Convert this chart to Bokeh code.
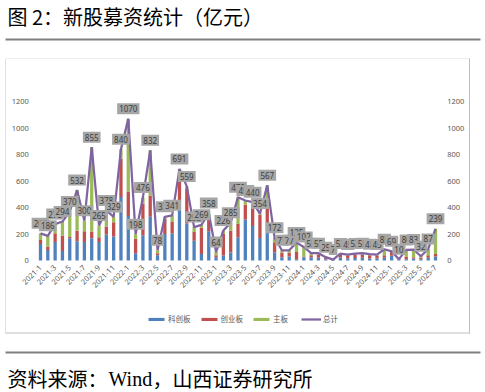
import numpy as np
from bokeh.plotting import figure
from bokeh.models import (ColumnDataSource, Range1d, LinearAxis, FixedTicker, Legend, LegendItem,
                          Label, BoxAnnotation)
from bokeh.embed import file_html
from bokeh.resources import INLINE
from bokeh.core.properties import value

# ---------------- data (亿元) ----------------
months = [
    "2021-1", "2021-2", "2021-3", "2021-4", "2021-5", "2021-6", "2021-7", "2021-8", "2021-9", "2021-10", "2021-11", "2021-12",
    "2022-1", "2022-2", "2022-3", "2022-4", "2022-5", "2022-6", "2022-7", "2022-8", "2022-9", "2022-10", "2022-11", "2022-12",
    "2023-1", "2023-2", "2023-3", "2023-4", "2023-5", "2023-6", "2023-7", "2023-8", "2023-9", "2023-10", "2023-11", "2023-12",
    "2024-1", "2024-2", "2024-3", "2024-4", "2024-5", "2024-6", "2024-7", "2024-8", "2024-9", "2024-10", "2024-11", "2024-12",
    "2025-1", "2025-2", "2025-3", "2025-4", "2025-5", "2025-6", "2025-7",
]
kechuang = [125, 80, 140, 72, 168, 145, 140, 168, 140, 196, 181, 480,
            335, 55, 190, 330, 40, 200, 205, 430, 280, 150, 50, 220,
            25, 38, 60, 176, 310, 260, 170, 210, 63, 25, 30, 10,
            25, 25, 20, 10, 3, 20, 15, 18, 20, 15, 15, 20,
            35, 5, 10, 15, 10, 20, 30]
chuangye = [30, 25, 65, 117, 10, 80, 80, 50, 35, 60, 108, 290,
            185, 110, 240, 160, 15, 115, 85, 200, 260, 65, 200, 90,
            15, 163, 165, 100, 110, 150, 175, 190, 75, 35, 30, 55,
            5, 15, 25, 10, 4, 22, 22, 24, 25, 25, 22, 20,
            30, 5, 20, 10, 12, 20, 20]
zhuban = [50, 81, 70, 105, 192, 307, 80, 637, 90, 122, 40, 70,
          550, 33, 46, 342, 23, 15, 51, 61, 19, 37, 19, 48,
          24, 25, 60, 202, 33, 30, 9, 167, 34, 17, 17, 70,
          72, 15, 10, 5, 0, 10, 8, 10, 10, 8, 8, 45,
          4, 0, 50, 58, 10, 47, 189]
total = [205, 186, 275, 294, 370, 532, 300, 855, 265, 378, 329, 840,
         1070, 198, 476, 832, 78, 330, 341, 691, 559, 252, 269, 358,
         64, 226, 285, 478, 453, 440, 354, 567, 172, 77, 77, 135,
         102, 55, 55, 25, 7, 52, 45, 52, 55, 48, 45, 85,
         69, 10, 80, 83, 32, 87, 239]
series_names = ["科创板", "创业板", "主板", "总计"]
y_ticks = [0, 200, 400, 600, 800, 1000, 1200]
title_text = "图 2：新股募资统计（亿元）"
source_parts = ["资料来源：", "Wind", "，山西证券研究所"]

# ---------------- style / geometry (pixels) ----------------
CJK = "Noto Sans CJK SC"
BLUE, RED, GREEN, PURPLE = "#4F81BD", "#C0504D", "#9BBB59", "#8064A2"
AXIS_TXT = "#595959"
WIDTH, HEIGHT = 485, 392
X0_PX, STEP_PX = 40.0, 7.315          # first category centre, category spacing
Y0_PX, PX_PER_UNIT = 260.0, 159.0 / 1200  # page y of value 0, px per 亿元

n = len(months)
x_start = -X0_PX / STEP_PX
x_end = (WIDTH - X0_PX) / STEP_PX
y_start = -(HEIGHT - Y0_PX) / PX_PER_UNIT
y_end = Y0_PX / PX_PER_UNIT

src = ColumnDataSource(dict(
    x=list(range(n)), kc=kechuang, cy=chuangye, zb=zhuban,
    total=total, lab=[str(v) for v in total]))

p = figure(width=WIDTH, height=HEIGHT, x_range=Range1d(x_start, x_end), y_range=Range1d(y_start, y_end),
           output_backend="svg", toolbar_location=None, x_axis_location=None, y_axis_location=None,
           min_border=0)
p.grid.visible = False
p.outline_line_color = None
p.background_fill_color = "white"


def hbox(left, right, top, bottom, color):
    # thin decorative rule, page pixel coordinates (y from top)
    p.add_layout(BoxAnnotation(left=left, right=right, top=HEIGHT - top, bottom=HEIGHT - bottom,
                               left_units="screen", right_units="screen",
                               top_units="screen", bottom_units="screen",
                               fill_color=color, fill_alpha=1, line_color=None, level="underlay"))


# title, rules, chart box
p.add_layout(Label(x=7, y=HEIGHT - 15.5, x_units="screen", y_units="screen", text=title_text,
                   text_font=CJK, text_font_size="20px", text_baseline="middle", text_color="#000000"))
hbox(5, 480, 38, 40, "#7F7F7F")
hbox(5, 469, 57.5, 58.5, "#EDEDED")
hbox(4.5, 5.5, 58, 333, "#E3E3E3")
hbox(468.5, 469.5, 58, 333, "#BFBFBF")
hbox(5, 469.5, 332, 333, "#BFBFBF")
hbox(5, 480, 351, 353, "#7F7F7F")
p.add_layout(Label(x=7, y=HEIGHT - 378, x_units="screen", y_units="screen", text=source_parts[0],
                   text_font=CJK, text_font_size="20px", text_baseline="middle", text_color="#000000"))
p.add_layout(Label(x=108, y=HEIGHT - 378, x_units="screen", y_units="screen", text=source_parts[1],
                   text_font="Liberation Serif", text_font_size="20px", text_baseline="middle",
                   text_color="#000000"))
p.add_layout(Label(x=152, y=HEIGHT - 378, x_units="screen", y_units="screen", text=source_parts[2],
                   text_font=CJK, text_font_size="20px", text_baseline="middle", text_color="#000000"))

# data marks
rs = p.vbar_stack(["kc", "cy", "zb"], x="x", width=0.45, source=src,
                  color=[BLUE, RED, GREEN], line_width=0)
rl = p.line("x", "total", source=src, line_color=PURPLE, line_width=2.25)
p.text(x="x", y="total", text="lab", source=src, text_align="center", text_baseline="middle",
       y_offset=-10, text_font=value("Noto Sans"), text_font_size="8px", text_color="#404040",
       background_fill_color="#A6A6A6", padding=2)

# axes (fixed inside the full-canvas frame)
xaxis = LinearAxis(ticker=FixedTicker(ticks=list(range(0, n, 2))), fixed_location=0)
xaxis.major_label_overrides = {i: m for i, m in enumerate(months)}
xaxis.major_label_orientation = np.pi / 4
xaxis.major_label_standoff = 6
p.add_layout(xaxis, "below")

laxis = LinearAxis(ticker=FixedTicker(ticks=y_ticks), fixed_location=-0.5)
raxis = LinearAxis(ticker=FixedTicker(ticks=y_ticks), fixed_location=n - 0.5)
p.add_layout(laxis, "left")
p.add_layout(raxis, "right")
for ax in (xaxis, laxis, raxis):
    ax.axis_line_color = None
    ax.major_tick_line_color = None
    ax.minor_tick_line_color = None
    ax.major_tick_out = 0
    ax.major_tick_in = 0
    ax.minor_tick_out = 0
    ax.major_label_text_font = "Noto Sans"
    ax.major_label_text_font_size = "7.5px"
    ax.major_label_text_color = AXIS_TXT
laxis.major_label_standoff = 8
raxis.major_label_standoff = 8

legend = Legend(items=[LegendItem(label=series_names[0], renderers=[rs[0]]),
                       LegendItem(label=series_names[1], renderers=[rs[1]]),
                       LegendItem(label=series_names[2], renderers=[rs[2]]),
                       LegendItem(label=series_names[3], renderers=[rl])],
                orientation="horizontal", location=(146, HEIGHT - 324),
                glyph_width=20, glyph_height=4, label_height=10, label_standoff=2,
                spacing=8, padding=0, margin=0,
                label_text_font=CJK, label_text_font_size="7.5px", label_text_color=AXIS_TXT,
                border_line_color=None, background_fill_alpha=0)
p.add_layout(legend)

open("out.html", "w").write(file_html(p, INLINE))
